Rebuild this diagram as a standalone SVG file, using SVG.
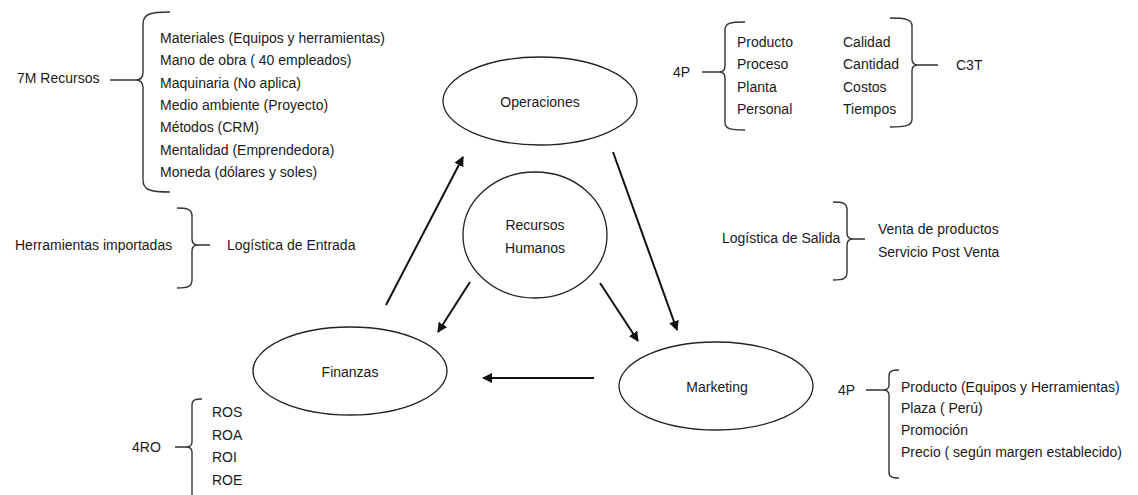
<svg xmlns="http://www.w3.org/2000/svg" width="1138" height="495" viewBox="0 0 1138 495">
<style>
text{font-family:"Liberation Sans",Arial,sans-serif;font-size:14px;fill:#1a1a1a}
.c{text-anchor:middle}
.node{fill:#fff;stroke:#222;stroke-width:1.3}
.br{fill:none;stroke:#333;stroke-width:1.4}
.ar{stroke:#111;stroke-width:2;fill:none;marker-end:url(#ah)}
</style>
<defs>
<marker id="ah" viewBox="0 0 10 10" refX="9" refY="5" markerWidth="5" markerHeight="5" orient="auto" markerUnits="strokeWidth">
<path d="M0,0 L10,5 L0,10 z" fill="#111"/>
</marker>
</defs>
<rect width="1138" height="495" fill="#fff"/>

<g id="recursos7m">
<path class="br" d="M110,80 L136,80 M170,12 C150,12 143,14 143,24 L143,72 C143,78 140,80 136,80 C140,80 143,82 143,88 L143,180 C143,190 150,192 170,192"/>
<text x="17" y="83">7M Recursos</text>
<text x="160" y="43">Materiales (Equipos y herramientas)</text>
<text x="160" y="65">Mano de obra ( 40 empleados)</text>
<text x="160" y="88">Maquinaria (No aplica)</text>
<text x="160" y="110">Medio ambiente (Proyecto)</text>
<text x="160" y="132">Métodos (CRM)</text>
<text x="160" y="155">Mentalidad (Emprendedora)</text>
<text x="160" y="177">Moneda (dólares y soles)</text>
</g>

<g id="logistica-entrada">
<path class="br" d="M210,245 L198,245 M177,208 C187,208 192,209 192,216 L192,239 C192,243 194,245 198,245 C194,245 192,247 192,251 L192,280 C192,287 187,288 177,288"/>
<text x="15" y="250">Herramientas importadas</text>
<text x="227" y="250">Logística de Entrada</text>
</g>

<g id="operaciones">
<ellipse class="node" cx="540" cy="101" rx="97" ry="44"/>
<text class="c" x="540" y="107">Operaciones</text>
</g>

<g id="p4-operaciones">
<path class="br" d="M702,72 L719,72 M745,22 C730,22 725,23 725,30 L725,66 C725,70 723,72 719,72 C723,72 725,74 725,78 L725,122 C725,129 730,130 745,130"/>
<text x="673" y="77">4P</text>
<text x="737" y="47">Producto</text>
<text x="737" y="69">Proceso</text>
<text x="737" y="92">Planta</text>
<text x="737" y="114">Personal</text>
</g>

<g id="c3t">
<path class="br" d="M938,65 L918,65 M890,18 C905,18 912,19 912,26 L912,59 C912,63 914,65 918,65 C914,65 912,67 912,71 L912,119 C912,126 905,127 890,127"/>
<text x="843" y="47">Calidad</text>
<text x="843" y="69">Cantidad</text>
<text x="843" y="92">Costos</text>
<text x="843" y="114">Tiempos</text>
<text x="956" y="70">C3T</text>
</g>

<g id="recursos-humanos">
<ellipse class="node" cx="535" cy="235" rx="72" ry="63"/>
<text class="c" x="535" y="230">Recursos</text>
<text class="c" x="535" y="253">Humanos</text>
</g>

<g id="logistica-salida">
<path class="br" d="M865,239 L853,239 M833,202 C843,202 847,203 847,210 L847,233 C847,237 849,239 853,239 C849,239 847,241 847,245 L847,272 C847,279 843,280 833,280"/>
<text x="722" y="243">Logística de Salida</text>
<text x="878" y="234">Venta de productos</text>
<text x="878" y="257">Servicio Post Venta</text>
</g>

<g id="finanzas">
<ellipse class="node" cx="350" cy="371" rx="97" ry="44"/>
<text class="c" x="350" y="377">Finanzas</text>
</g>

<g id="marketing">
<ellipse class="node" cx="716" cy="386" rx="97" ry="44"/>
<text class="c" x="717" y="392">Marketing</text>
</g>

<g id="p4-marketing">
<path class="br" d="M866,390 L883,390 M899,370 C892,370 889,371 889,376 L889,385 C889,388 887,390 883,390 C887,390 889,392 889,395 L889,472 C889,477 892,478 899,478"/>
<text x="838" y="395">4P</text>
<text x="901" y="392">Producto (Equipos y Herramientas)</text>
<text x="901" y="413">Plaza ( Perú)</text>
<text x="901" y="435">Promoción</text>
<text x="901" y="457">Precio ( según margen establecido)</text>
</g>

<g id="ro4">
<path class="br" d="M175,447 L186,447 M202,399 C195,399 192,400 192,405 L192,442 C192,445 190,447 186,447 C190,447 192,449 192,452 L192,500"/>
<text x="132" y="452">4RO</text>
<text x="212" y="417">ROS</text>
<text x="212" y="440">ROA</text>
<text x="212" y="462">ROI</text>
<text x="212" y="485">ROE</text>
</g>

<g id="connectors">
<line class="ar" x1="386" y1="305" x2="463" y2="157"/>
<line class="ar" x1="613" y1="152" x2="677" y2="330"/>
<line class="ar" x1="470" y1="282" x2="438" y2="332"/>
<line class="ar" x1="600" y1="283" x2="638" y2="341"/>
<line class="ar" x1="594" y1="378" x2="483" y2="378"/>
</g>
</svg>
